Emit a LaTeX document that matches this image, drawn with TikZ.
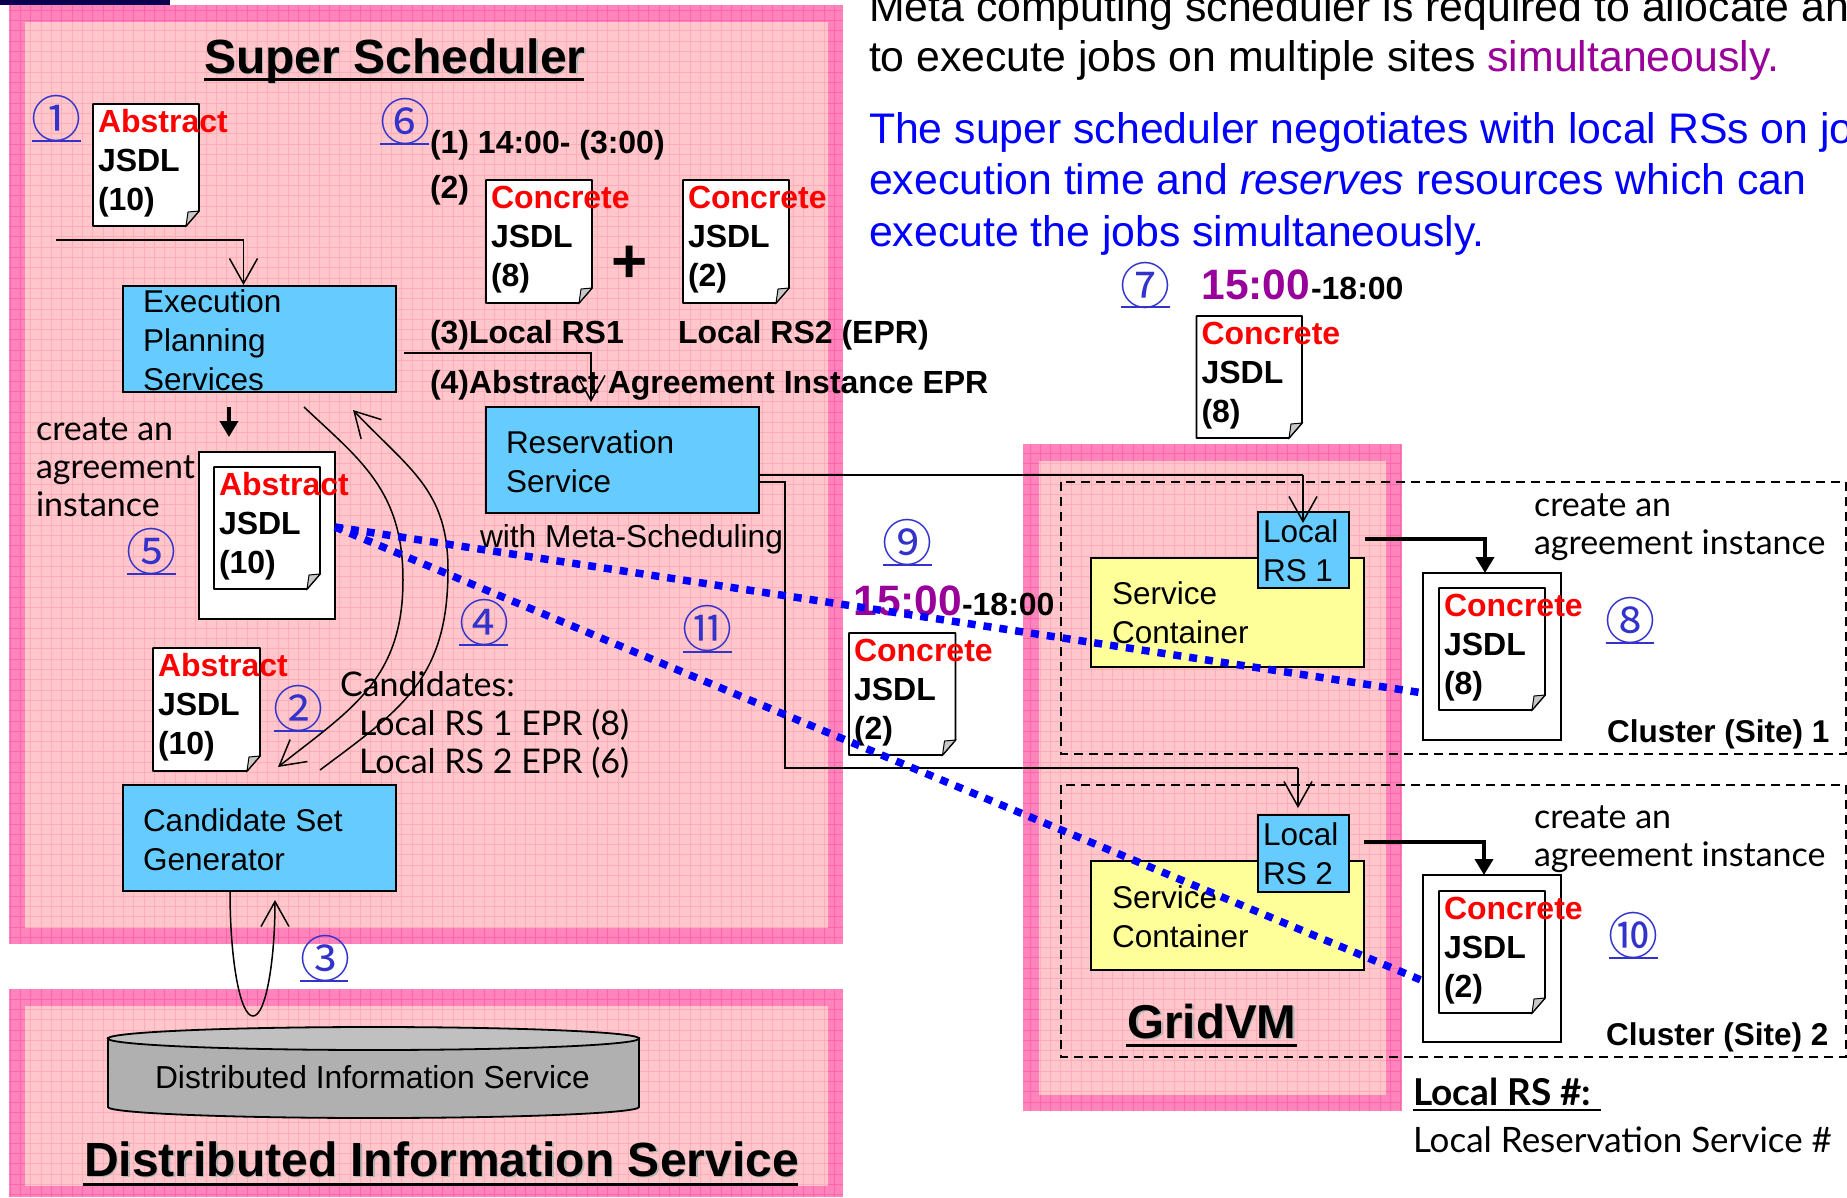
\documentclass[tikz,border=0pt]{standalone}
\usepackage{fontspec}
\setmainfont{Liberation Sans}
\newfontfamily\comicf{Lato}
\newfontfamily\circf{Noto Sans CJK SC}
\usetikzlibrary{arrows.meta}
\definecolor{bordpink}{HTML}{FF84BC}
\definecolor{bordgrid}{HTML}{FF64AC}
\definecolor{innerpink}{HTML}{FFC6CB}
\definecolor{innergrid}{HTML}{FFAEB8}
\definecolor{skyb}{HTML}{66CCFF}
\definecolor{paleyel}{HTML}{FFFF99}
\definecolor{purp}{HTML}{990099}
\definecolor{numblue}{HTML}{3333CC}
\definecolor{navybar}{HTML}{0A0050}
\definecolor{cylbody}{HTML}{B0B0B0}
\definecolor{cyltop}{HTML}{C0C0C0}
\definecolor{foldgray}{HTML}{C8C8C8}
\newcommand\fsz[2]{\fontsize{#1}{#2}\selectfont}
\tikzset{
 txt/.style={inner sep=0pt,outer sep=0pt,anchor=base west,align=left},
 boxtxt/.style={txt,font=\fsz{31.5}{38.8}},
 doctxt/.style={txt,font=\fsz{32}{38.8}\bfseries},
 boldtxt/.style={txt,font=\fsz{32}{38}\bfseries},
 comic/.style={txt,font=\fsz{34}{38}\comicf},
 headtxt/.style={txt,font=\fsz{42.8}{50}},
 bluebox/.style={draw=black,line width=1.8pt,fill=skyb,inner sep=0pt,outer sep=0pt,anchor=north west},
 yelbox/.style={draw=black,line width=1.8pt,fill=paleyel,inner sep=0pt,outer sep=0pt,anchor=north west},
 whitebox/.style={draw=black,line width=1.6pt,fill=white,inner sep=0pt,outer sep=0pt,anchor=north west},
 openarr/.style={draw=black,line width=1.5pt,-{Straight Barb[length=25pt,width=28pt,line width=1.5pt]}},
 thickarr/.style={draw=black,line width=3.8pt,-{Triangle[length=16pt,width=18pt]}},
 bluedash/.style={draw=blue,line width=7.5pt,dash pattern=on 8pt off 8pt},
 clusterbox/.style={draw=black,line width=1.7pt,dash pattern=on 9pt off 6pt},
 circnum/.style={inner sep=0pt,outer sep=0pt,text=numblue,font=\fsz{50}{52}\circf},
 numline/.style={draw=numblue,line width=2pt},
 titletxt/.style={txt,font=\fsz{#1}{#1}\bfseries},
}
% panel: outer x0 y0 x1 y1, inner x0 y0 x1 y1
\newcommand\hatchpanel[8]{%
 \fill[bordpink] (#1,#2) rectangle (#3,#4);
 \begin{scope}[y=1pt]
 \draw[bordgrid,line width=.9pt,step=10.3] (#1,-#2) grid (#3,-#4);
 \end{scope}
 \fill[innerpink] (#5,#6) rectangle (#7,#8);
 \begin{scope}[y=1pt]
 \draw[innergrid,line width=.9pt,step=10.3] (#5,-#6) grid (#7,-#8);
 \end{scope}
}
% name x0 y0 x1 y1 text
\newcommand\jsdlpaper[6]{%
 \draw[line width=1.7pt,fill=white,line join=round] (#2,#3) -- (#4,#3) -- (#4,#5-15) -- (#4-13,#5) -- (#2,#5) -- cycle;
 \draw[line width=1pt,fill=foldgray] (#4,#5-15) -- (#4-11,#5-14) -- (#4-13,#5) -- cycle;
 \node[doctxt] (#1) at (#2+5,#3+106) {#6};
}
% name cx cy ulY ulx0 ulx1 glyph
\newcommand\circnumber[7]{%
 \node[circnum] (#1) at (#2,#3) {#7};
 \draw[numline] (#5,#4) -- (#6,#4);
}
\newcommand\abstractjsdl[1]{\textcolor{red}{Abstract}\\JSDL\\(#1)}
\newcommand\concretejsdl[1]{\textcolor{red}{Concrete}\\JSDL\\(#1)}
\begin{document}
\begin{tikzpicture}[x=1pt,y=-1pt]
\useasboundingbox (0,0) rectangle (1847,1197);
\fill[white] (0,0) rectangle (1847,1197);
\fill[navybar] (0,0) rectangle (170,5);
% panels
\hatchpanel{9}{5}{843}{944}{25}{22}{828}{928}
\hatchpanel{9}{989}{843}{1197}{25}{1006}{828}{1186}
\hatchpanel{1023}{444}{1402}{1111}{1039}{461}{1386}{1095}
% titles
\node[titletxt=48,text=black!30] at (205.5,74.5) {Super Scheduler};
\node[titletxt=48] (ttlsuper) at (204,73) {Super Scheduler};
\draw[line width=3pt] (204,79) -- (584,79);
\node[titletxt=48,text=black!30] at (85.5,1177.5) {Distributed Information Service};
\node[titletxt=48] (ttldis) at (84,1176) {Distributed Information Service};
\draw[line width=3pt] (83,1184) -- (798,1184);
\node[titletxt=47.5,text=black!30] at (1129,1039.5) {GridVM};
\node[titletxt=47.5] (ttlgrid) at (1127.5,1038) {GridVM};
\draw[line width=3pt] (1126,1045) -- (1297,1045);
% header text
\node[headtxt] (head1) at (869,21) {Meta computing scheduler is required to allocate an};
\node[headtxt] (head2) at (869,71) {to execute jobs on multiple sites \textcolor{purp}{simultaneously.}};
\node[headtxt,text=blue] (head3) at (869,143) {The super scheduler negotiates with local RSs on jo};
\node[headtxt,text=blue] (head4) at (869,194) {execution time and \textit{reserves} resources which can};
\node[headtxt,text=blue] (head5) at (869,246) {execute the jobs simultaneously.};
% cluster boxes
\draw[clusterbox] (1061,482) rectangle (1846,754);
\draw[clusterbox] (1061,785) rectangle (1846,1057);
% blue boxes
\node[bluebox,minimum width=273pt,minimum height=106pt] (eps) at (123,286) {};
\node[boxtxt] (epstxt) at (143,390.5) {Execution\\Planning\\Services};
\node[bluebox,minimum width=273pt,minimum height=106pt] (res) at (486,407) {};
\node[boxtxt] (restxt) at (506,492) {Reservation\\Service};
\node[bluebox,minimum width=273pt,minimum height=106pt] (cand) at (123,785) {};
\node[boxtxt] (candtxt) at (143,870) {Candidate Set\\Generator};
% cylinder
\draw[line width=1.8pt,fill=cylbody] (108,1038) -- (108,1107) arc[start angle=180,end angle=360,x radius=265.5,y radius=-11] -- (639,1038) -- cycle;
\draw[line width=1.8pt,fill=cyltop] (373.5,1038.5) ellipse[x radius=265.5,y radius=11.5];
\node[txt,font=\fsz{31.8}{38}] (distxt) at (155,1088) {Distributed Information Service};
% grid containers
\node[yelbox,minimum width=273pt,minimum height=109pt] (sc1) at (1091,558) {};
\node[boxtxt] (sc1txt) at (1112,643) {Service\\Container};
\node[bluebox,minimum width=91pt,minimum height=76pt] (rs1) at (1258,512) {};
\node[boxtxt] (rs1txt) at (1263,581) {Local\\RS 1};
\node[yelbox,minimum width=273pt,minimum height=109pt] (sc2) at (1091,861) {};
\node[boxtxt] (sc2txt) at (1112,947) {Service\\Container};
\node[bluebox,minimum width=91pt,minimum height=77pt] (rs2) at (1258,815) {};
\node[boxtxt] (rs2txt) at (1263,884) {Local\\RS 2};
% outer white boxes
\node[whitebox,minimum width=136pt,minimum height=167pt] (out5) at (199,452) {};
\node[whitebox,minimum width=138pt,minimum height=167pt] (out8) at (1423,573) {};
\node[whitebox,minimum width=138pt,minimum height=167pt] (out10) at (1423,875) {};
% papers
\jsdlpaper{doc1}{93}{104}{199}{226}{\abstractjsdl{10}}
\jsdlpaper{doc2}{153}{648}{260}{771}{\abstractjsdl{10}}
\jsdlpaper{doc5}{214}{467}{320}{589}{\abstractjsdl{10}}
\jsdlpaper{docA}{486}{180}{592}{303}{\concretejsdl{8}}
\jsdlpaper{docB}{683}{180}{789}{303}{\concretejsdl{2}}
\jsdlpaper{doc9}{849}{633}{955.5}{755}{\concretejsdl{2}}
\jsdlpaper{doc7}{1196.5}{316}{1302}{438}{\concretejsdl{8}}
\jsdlpaper{doc8}{1439}{588}{1545}{710}{\concretejsdl{8}}
\jsdlpaper{doc10}{1439}{891}{1545}{1013}{\concretejsdl{2}}
% bold labels
\node[boldtxt] (l1) at (430,153) {(1) 14:00- (3:00)};
\node[boldtxt] (l2) at (430,198) {(2)};
\node[txt,font=\fsz{62}{62}\bfseries,anchor=center] (plus) at (630,264) {+};
\node[boldtxt] (l3) at (430,343) {(3)Local RS1};
\node[boldtxt] (l3b) at (678,343) {Local RS2 (EPR)};
\node[boldtxt] (l4) at (430,393) {(4)Abstract Agreement Instance EPR};
\node[txt,font=\fsz{31.7}{38}] (meta) at (480,547) {with Meta-Scheduling};
\node[txt,font=\fsz{42.5}{42}\bfseries,text=purp] (t9a) at (853.5,615) {15:00};
\node[boldtxt] (t9b) at (962,615) {-18:00};
\node[txt,font=\fsz{42.5}{42}\bfseries,text=purp] (t7a) at (1201.5,299) {15:00};
\node[boldtxt] (t7b) at (1311,299) {-18:00};
\node[boldtxt,font=\fsz{31.5}{38}\bfseries] (clu1) at (1607,742) {Cluster (Site) 1};
\node[boldtxt,font=\fsz{31.5}{38}\bfseries] (clu2) at (1606,1045) {Cluster (Site) 2};
% comic labels
\node[comic] (cr5) at (36,516.5) {create an\\agreement\\instance};
\node[comic] (cr8) at (1534,554) {create an\\agreement instance};
\node[comic] (cr10) at (1534,866) {create an\\agreement instance};
\node[comic,font=\fsz{34}{38.5}\comicf] (cands) at (340,773.5) {Candidates:\\\hspace*{19pt}Local RS 1 EPR (8)\\\hspace*{19pt}Local RS 2 EPR (6)};
\node[comic,font=\fsz{37}{38}\comicf\bfseries] (lrs) at (1413,1105) {Local RS \#:};
\draw[line width=2.5pt] (1413,1110) -- (1601,1110);
\node[comic,font=\fsz{35}{38}\comicf] (lrsd) at (1413,1152) {Local Reservation Service \#};
% circled numbers
\circnumber{n1}{56.5}{118}{141}{32}{81}{①}
\circnumber{n2}{298}{708}{731}{274}{323}{②}
\circnumber{n3}{325}{958}{981}{300}{348}{③}
\circnumber{n4}{484}{622}{645}{459}{508}{④}
\circnumber{n5}{151}{551}{574}{127}{176}{⑤}
\circnumber{n6}{405}{121}{144}{380}{429}{⑥}
\circnumber{n7}{1145}{285}{307}{1121}{1170}{⑦}
\circnumber{n8}{1630}{620}{643}{1606}{1654}{⑧}
\circnumber{n9}{907}{542}{565}{883}{932}{⑨}
\circnumber{n10}{1633}{935}{958}{1609}{1658}{⑩}
\circnumber{n11}{707}{628}{652}{683}{732}{⑪}
% connectors
\coordinate (c1s) at (56,240);
\draw[openarr] (c1s) -| ([xshift=-16pt,yshift=1pt]eps.north);
\draw[openarr] ([xshift=8pt,yshift=-14pt]eps.east) -| ([xshift=-31.5pt,yshift=5pt]res.north);
\draw[thickarr] (229,407) -- (229,437);
\coordinate (c2s) at (304,407);
\draw[openarr] (c2s) .. controls (360,460) and (403,490) .. (403,580) .. controls (403,680) and (350,710) .. (278,767);
\coordinate (c3s) at (320,770);
\draw[openarr] (c3s) .. controls (400,710) and (448,680) .. (448,570) .. controls (448,490) and (410,470) .. (353,410);
\draw[line width=1.5pt,-{Straight Barb[length=25pt,width=28pt,line width=1.5pt]}] ([xshift=-29.5pt]cand.south) .. controls (230,960) and (240,1016) .. (253,1016) .. controls (266,1016) and (275,960) .. (275,900);
\draw[draw=black,line width=1.5pt] ([yshift=-15pt]res.east) -- (1303,475);
\draw[openarr] (1303,475) -- ([xshift=-.5pt,yshift=-11pt]rs1.north);
\draw[line width=1.5pt] ([yshift=-22pt]res.east) -| (785,768) -- (1298,768);
\draw[openarr] (1298,768) -- ([xshift=-5.5pt,yshift=7pt]rs2.north);
\coordinate (th1) at (1365,539);
\draw[thickarr] (th1) -| ([xshift=-7pt]out8.north);
\coordinate (th2) at (1364,842);
\draw[thickarr] (th2) -| ([xshift=-8pt]out10.north);
% blue dotted
\coordinate (dstart) at (335,527);
\draw[bluedash] (dstart) -- ([yshift=-36pt,xshift=-3pt]out8.west);
\draw[bluedash] (dstart) -- ([yshift=-21.5pt,xshift=-2pt]out10.west);
\end{tikzpicture}
\end{document}
